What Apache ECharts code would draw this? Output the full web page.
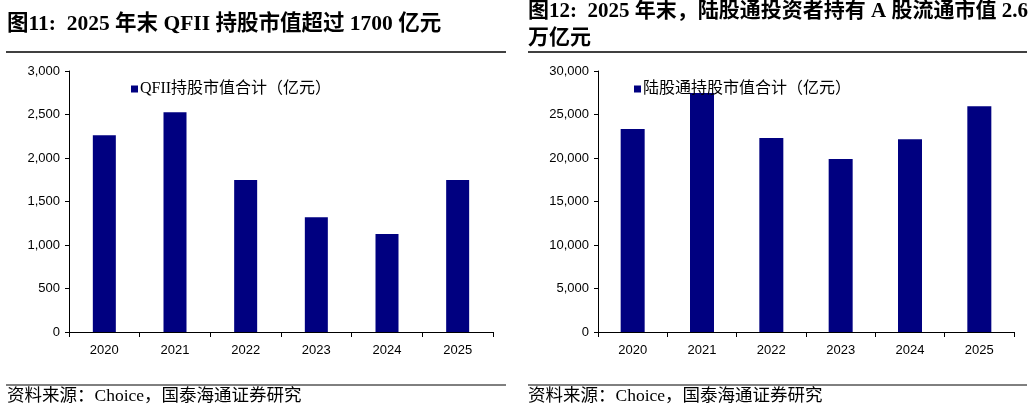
<!DOCTYPE html>
<html>
<head>
<meta charset="utf-8">
<script src="https://cdn.jsdelivr.net/npm/echarts@6/dist/echarts.min.js"></script>
<style>
  html, body { margin: 0; padding: 0; background: #fff; }
  #main { width: 1032px; height: 410px; }
</style>
</head>
<body>
<div id="main"></div>
<script>
var years = ['2020', '2021', '2022', '2023', '2024', '2025'];
var qfiiValues = [2261, 2525, 1747, 1318, 1126, 1747];
var northValues = [23333, 27471, 22299, 19885, 22146, 25939];
var qfiiTicks = [0, 3000, 500];      // min, max, interval
var northTicks = [0, 30000, 5000];

var qfiiName = 'QFII持股市值合计（亿元）';
var northName = '陆股通持股市值合计（亿元）';

var serifFont = '"Liberation Serif", "Noto Sans CJK SC", serif';
var numFont = '"Liberation Sans", Arial, sans-serif';
var navy = '#000080';

var chart = echarts.init(document.getElementById('main'));

function yAxisOf(ticks, idx) {
  return {
    type: 'value',
    gridIndex: idx,
    min: ticks[0],
    max: ticks[1],
    interval: ticks[2],
    axisLine: { show: true, lineStyle: { color: '#000', width: 1 } },
    axisTick: { show: true, length: 4, lineStyle: { color: '#000' } },
    axisLabel: {
      color: '#000', fontSize: 13, fontFamily: numFont, margin: 9,
      formatter: function (v) { return v.toLocaleString('en-US'); }
    },
    splitLine: { show: false }
  };
}

function xAxisOf(idx) {
  return {
    type: 'category',
    gridIndex: idx,
    data: years,
    boundaryGap: true,
    axisLine: { show: true, lineStyle: { color: '#000', width: 1 } },
    axisTick: { show: true, length: 5, lineStyle: { color: '#000' } },
    axisLabel: { color: '#000', fontSize: 13, fontFamily: numFont, margin: 12 }
  };
}

function legendOf(name, x) {
  return {
    data: [name], left: x, top: 76, itemWidth: 7, itemHeight: 7, itemGap: 0,
    icon: 'rect',
    textStyle: { fontSize: 16, color: '#000', fontFamily: serifFont, padding: [0, 0, 0, -3] }
  };
}

var option = {
  animation: false,
  backgroundColor: '#fff',
  grid: [
    { left: 69, top: 71, width: 424, height: 261 },
    { left: 598, top: 71, width: 416, height: 261 }
  ],
  xAxis: [xAxisOf(0), xAxisOf(1)],
  yAxis: [yAxisOf(qfiiTicks, 0), yAxisOf(northTicks, 1)],
  legend: [legendOf(qfiiName, 126), legendOf(northName, 629)],
  series: [
    {
      name: qfiiName, type: 'bar', xAxisIndex: 0, yAxisIndex: 0,
      data: qfiiValues, barWidth: 23,
      itemStyle: { color: navy }
    },
    {
      name: northName, type: 'bar', xAxisIndex: 1, yAxisIndex: 1,
      data: northValues, barWidth: 24,
      itemStyle: { color: navy }
    }
  ],
  graphic: [
    {
      type: 'text', left: 7, top: 14,
      style: { text: '图11:  2025 年末 QFII 持股市值超过 1700 亿元', fill: '#000', font: 'bold 21.5px ' + serifFont }
    },
    {
      type: 'text', left: 528, top: 1,
      style: { text: '图12:  2025 年末，陆股通投资者持有 A 股流通市值 2.6', fill: '#000', font: 'bold 21px ' + serifFont }
    },
    {
      type: 'text', left: 528, top: 28,
      style: { text: '万亿元', fill: '#000', font: 'bold 21px ' + serifFont }
    },
    { type: 'line', shape: { x1: 6, y1: 52, x2: 506, y2: 52 }, style: { stroke: '#000', lineWidth: 1.5 } },
    { type: 'line', shape: { x1: 528, y1: 52, x2: 1027, y2: 52 }, style: { stroke: '#000', lineWidth: 1.5 } },
    { type: 'line', shape: { x1: 6, y1: 385, x2: 506, y2: 385 }, style: { stroke: '#000', lineWidth: 1 } },
    { type: 'line', shape: { x1: 528, y1: 385, x2: 1027, y2: 385 }, style: { stroke: '#000', lineWidth: 1 } },
    {
      type: 'text', left: 7, top: 388,
      style: { text: '资料来源：Choice，国泰海通证券研究', fill: '#000', font: '17.5px ' + serifFont }
    },
    {
      type: 'text', left: 528, top: 388,
      style: { text: '资料来源：Choice，国泰海通证券研究', fill: '#000', font: '17.5px ' + serifFont }
    }
  ]
};

chart.setOption(option);
</script>
</body>
</html>
